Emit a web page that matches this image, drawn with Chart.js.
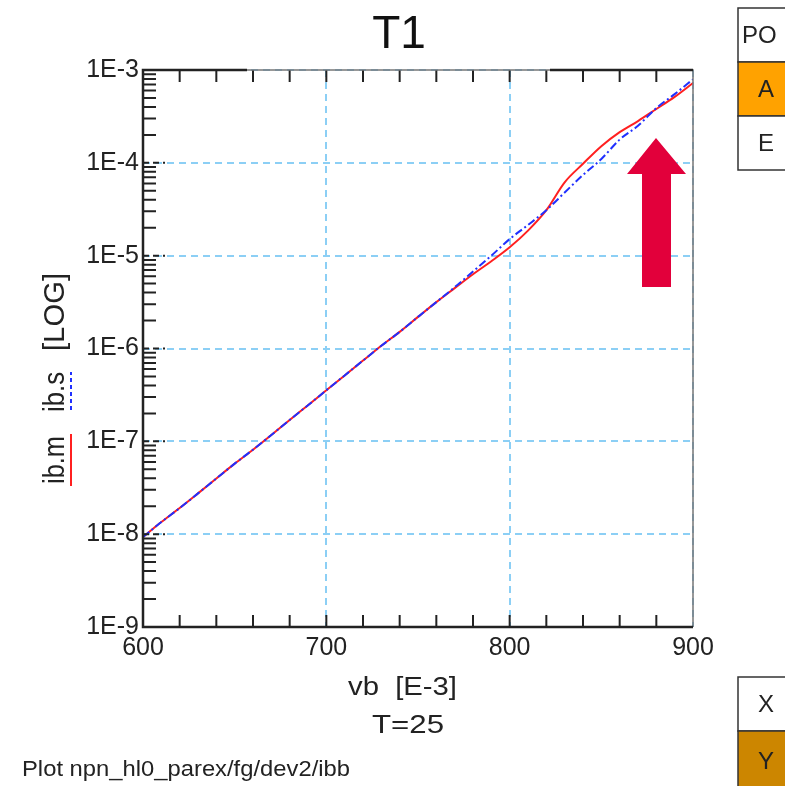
<!DOCTYPE html>
<html>
<head>
<meta charset="utf-8">
<script src="https://cdn.jsdelivr.net/npm/chart.js@4/dist/chart.umd.min.js"></script>
<style>
  html, body { margin: 0; padding: 0; background: #fff; }
  #wrap { width: 785px; height: 786px; }
</style>
</head>
<body>
<div id="wrap"><canvas id="chart" width="785" height="786"></canvas></div>
<script>
// data
const vb = [600, 610, 620, 630, 640, 650, 660, 670, 680, 690, 700, 710, 720, 730, 740, 750,
  760, 770, 780, 790, 800, 810, 820, 830, 840, 850, 860, 870, 880, 890, 900];
const ibm = [9.33e-9, 1.35e-8, 1.91e-8, 2.75e-8, 3.98e-8, 5.75e-8, 8.13e-8, 1.17e-7, 1.70e-7,
  2.45e-7, 3.55e-7, 5.13e-7, 7.41e-7, 1.07e-6, 1.51e-6, 2.19e-6, 3.16e-6, 4.47e-6, 6.31e-6,
  8.71e-6, 1.23e-5, 1.86e-5, 3.09e-5, 6.17e-5, 9.77e-5, 1.51e-4, 2.14e-4, 2.82e-4, 3.80e-4,
  5.13e-4, 7.24e-4];
const ibs = [9.33e-9, 1.35e-8, 1.91e-8, 2.75e-8, 3.98e-8, 5.75e-8, 8.13e-8, 1.17e-7, 1.70e-7,
  2.45e-7, 3.55e-7, 5.13e-7, 7.41e-7, 1.07e-6, 1.51e-6, 2.19e-6, 3.16e-6, 4.57e-6, 6.76e-6,
  1.00e-5, 1.51e-5, 2.14e-5, 3.09e-5, 4.79e-5, 7.41e-5, 1.10e-4, 1.78e-4, 2.51e-4, 3.89e-4,
  5.50e-4, 7.94e-4];
const xTicks = [600, 700, 800, 900];
const yTicks = [1e-9, 1e-8, 1e-7, 1e-6, 1e-5, 1e-4, 1e-3];

const ctx = document.getElementById("chart").getContext("2d");
const FONT = "'Liberation Sans', Arial, sans-serif";

// text squeezed to a given width
function fitText(c, txt, x, y, w) {
  const m = c.measureText(txt).width;
  c.save();
  c.translate(x, y);
  c.scale(w / m, 1);
  c.fillText(txt, 0, 0);
  c.restore();
}

const decorations = {
  id: "decorations",
  afterDraw(chart) {
    const c = chart.ctx;
    const a = chart.chartArea;
    const xs = chart.scales.x;
    const ys = chart.scales.y;
    c.save();

    // minor ticks, pointing inward
    c.strokeStyle = "#222";
    c.lineWidth = 2;
    c.beginPath();
    for (let v = 620; v < 900; v += 20) {
      const px = xs.getPixelForValue(v);
      c.moveTo(px, a.top); c.lineTo(px, a.top + 12);
      c.moveTo(px, a.bottom); c.lineTo(px, a.bottom - 12);
    }
    for (let d = -9; d < -3; d++) {
      for (let k = 2; k <= 9; k++) {
        const py = ys.getPixelForValue(k * Math.pow(10, d));
        c.moveTo(a.left, py); c.lineTo(a.left + 13, py);
      }
    }
    c.stroke();
    c.setLineDash([6, 4]);
    c.beginPath();
    yTicks.slice(1, -1).forEach(v => {
      const py = ys.getPixelForValue(v);
      c.moveTo(a.left, py); c.lineTo(a.left + 22, py);
    });
    c.stroke();
    c.setLineDash([]);

    // frame
    c.strokeStyle = "#777";
    c.lineWidth = 1.5;
    c.beginPath();
    c.moveTo(a.left, a.top); c.lineTo(a.right, a.top); c.lineTo(a.right, a.bottom);
    c.stroke();
    c.strokeStyle = "#222";
    c.lineWidth = 2.5;
    c.beginPath();
    c.moveTo(a.left + 104, a.top); c.lineTo(a.left, a.top);
    c.lineTo(a.left, a.bottom); c.lineTo(a.right, a.bottom);
    c.moveTo(a.right - 143, a.top); c.lineTo(a.right, a.top);
    c.stroke();

    // title and captions
    c.fillStyle = "#111";
    c.textBaseline = "middle";
    c.textAlign = "center";
    c.font = "46px " + FONT;
    c.fillText("T1", 399, 35);
    c.textAlign = "left";
    c.fillStyle = "#222";
    c.font = "25px " + FONT;
    fitText(c, "vb  [E-3]", 348, 688, 109);
    fitText(c, "T=25", 372, 726, 72);
    c.font = "22px " + FONT;
    fitText(c, "Plot npn_hl0_parex/fg/dev2/ibb", 22, 770, 328);

    // rotated y-axis title
    c.save();
    c.translate(64, 0);
    c.rotate(-Math.PI / 2);
    c.textBaseline = "alphabetic";
    c.font = "30px " + FONT;
    fitText(c, "ib.m", -484, 0, 48);
    fitText(c, "ib.s", -412, 0, 40);
    fitText(c, "[LOG]", -351, 0, 78);
    c.strokeStyle = "#ff2020";
    c.lineWidth = 2;
    c.beginPath(); c.moveTo(-486, 7); c.lineTo(-434, 7); c.stroke();
    c.strokeStyle = "#2030ff";
    c.setLineDash([4, 3]);
    c.beginPath(); c.moveTo(-410, 7); c.lineTo(-372, 7); c.stroke();
    c.setLineDash([]);
    c.restore();

    // side boxes
    const boxes = [
      { y: 8, h: 54, fill: "#ffffff", label: "PO", x: 742, align: "left" },
      { y: 62, h: 54, fill: "#ffa200", label: "A", x: 766, align: "center" },
      { y: 116, h: 54, fill: "#ffffff", label: "E", x: 766, align: "center" },
      { y: 677, h: 54, fill: "#ffffff", label: "X", x: 766, align: "center" },
      { y: 731, h: 60, fill: "#cc8600", label: "Y", x: 766, align: "center" }
    ];
    c.font = "24px " + FONT;
    c.textBaseline = "middle";
    boxes.forEach(b => {
      c.fillStyle = b.fill;
      c.fillRect(738, b.y, 60, b.h);
      c.strokeStyle = "#333";
      c.lineWidth = 1.5;
      c.strokeRect(738, b.y, 60, b.h);
      c.fillStyle = "#222";
      c.textAlign = b.align;
      c.fillText(b.label, b.x, b.y + b.h / 2 + 1);
    });

    // red arrow
    c.fillStyle = "#e2003b";
    c.beginPath();
    c.moveTo(642, 287); c.lineTo(642, 174); c.lineTo(627, 174);
    c.lineTo(656, 138); c.lineTo(686, 174); c.lineTo(671, 174);
    c.lineTo(671, 287);
    c.closePath();
    c.fill();

    c.restore();
  }
};

new Chart(ctx, {
  type: "line",
  data: {
    labels: vb,
    datasets: [
      {
        label: "ib.m",
        data: vb.map((v, i) => ({ x: v, y: ibm[i] })),
        borderColor: "#ff2020",
        borderWidth: 2,
        pointRadius: 0,
        cubicInterpolationMode: "monotone",
        order: 2
      },
      {
        label: "ib.s",
        data: vb.map((v, i) => ({ x: v, y: ibs[i] })),
        borderColor: "#2030ff",
        borderWidth: 2,
        borderDash: [8, 3, 2, 3],
        pointRadius: 0,
        cubicInterpolationMode: "monotone",
        order: 1
      }
    ]
  },
  options: {
    animation: false,
    responsive: false,
    layout: { padding: { left: 83, right: 92, top: 70, bottom: 119 } },
    plugins: { legend: { display: false }, tooltip: { enabled: false } },
    scales: {
      x: {
        type: "linear",
        min: 600,
        max: 900,
        afterFit: s => { s.height = 40; },
        afterBuildTicks: s => { s.ticks = xTicks.map(v => ({ value: v })); },
        grid: { color: "#8ccff5", lineWidth: 2, drawTicks: false },
        border: { display: false, dash: [7, 5] },
        ticks: { padding: 6, color: "#222", font: { family: FONT, size: 25 }, maxRotation: 0 }
      },
      y: {
        type: "logarithmic",
        min: 1e-9,
        max: 1e-3,
        afterFit: s => { s.width = 60; },
        afterBuildTicks: s => { s.ticks = yTicks.map(v => ({ value: v })); },
        grid: { color: "#8ccff5", lineWidth: 2, drawTicks: false },
        border: { display: false, dash: [7, 5] },
        ticks: {
          padding: 4,
          color: "#222",
          font: { family: FONT, size: 25 },
          callback: v => "1E" + Math.round(Math.log10(v))
        }
      }
    }
  },
  plugins: [decorations]
});
</script>
</body>
</html>
